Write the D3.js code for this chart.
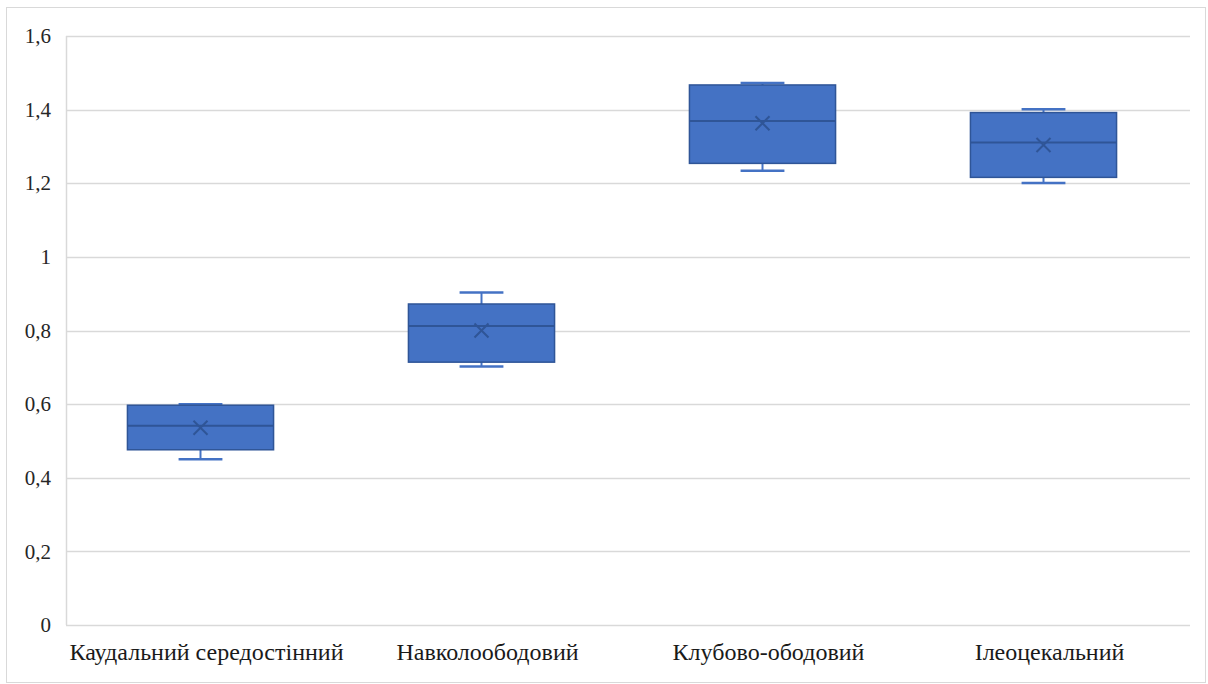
<!DOCTYPE html>
<html>
<head>
<meta charset="utf-8">
<script src="https://cdn.jsdelivr.net/npm/d3@7"></script>
<style>
  html, body { margin: 0; padding: 0; background: #fff; }
  svg { display: block; }
</style>
</head>
<body>
<svg id="chart" width="1208" height="684"></svg>
<script>
// Categories (anatomical regions) and their five-number summaries plus means
const categories = ["Каудальний середостінний", "Навколоободовий", "Клубово-ободовий", "Ілеоцекальний"];
const minValues    = [0.450, 0.702, 1.234, 1.201];
const q1Values     = [0.476, 0.714, 1.254, 1.216];
const medianValues = [0.541, 0.812, 1.369, 1.311];
const q3Values     = [0.597, 0.872, 1.467, 1.392];
const maxValues    = [0.600, 0.903, 1.472, 1.401];
const meanValues   = [0.536, 0.800, 1.363, 1.304];
const yTicks = [0, 0.2, 0.4, 0.6, 0.8, 1, 1.2, 1.4, 1.6];

const svg = d3.select("#chart");
const W = 1208, H = 684;
const margin = { left: 66, right: 18, top: 36, bottom: 59 };
const plotRight = W - margin.right;
const plotBottom = H - margin.bottom;
const serif = '"Liberation Serif", "Times New Roman", serif';

const fmt = v => String(v).replace(".", ",");

// outer chart frame
svg.append("rect")
  .attr("x", 6.5).attr("y", 7.5)
  .attr("width", 1199).attr("height", 675)
  .attr("fill", "#fff").attr("stroke", "#d9d9d9").attr("stroke-width", 1);

const x = d3.scaleBand().domain(categories).range([margin.left, plotRight]);
const y = d3.scaleLinear().domain([0, 1.6]).range([plotBottom, margin.top]);

// horizontal gridlines
svg.append("g").selectAll("line")
  .data(yTicks).join("line")
  .attr("x1", margin.left).attr("x2", plotRight)
  .attr("y1", d => Math.round(y(d)) + 0.5).attr("y2", d => Math.round(y(d)) + 0.5)
  .attr("stroke", "#d9d9d9").attr("stroke-width", 1.5);

// left frame line of the plot area
svg.append("line")
  .attr("x1", margin.left + 0.5).attr("x2", margin.left + 0.5)
  .attr("y1", y(1.6)).attr("y2", y(0))
  .attr("stroke", "#d9d9d9").attr("stroke-width", 1.5);

// y axis labels
const yAxis = d3.axisLeft(y).tickValues(yTicks).tickFormat(fmt).tickSize(0).tickPadding(15);
const gy = svg.append("g").attr("transform", `translate(${margin.left},0)`).call(yAxis);
gy.select(".domain").remove();
gy.selectAll("text")
  .style("font-family", serif).style("font-size", "21px").attr("fill", "#262626");

// x axis labels
const xAxis = d3.axisBottom(x).tickSize(0).tickPadding(18);
const gx = svg.append("g").attr("transform", `translate(0,${plotBottom})`).call(xAxis);
gx.select(".domain").remove();
gx.selectAll("text")
  .style("font-family", serif).style("font-size", "24px").attr("fill", "#1a1a1a");

// box-and-whisker marks
const fill = "#4472c4", dark = "#2f5597";
const boxW = x.bandwidth() * 0.52;
const capW = boxW * 0.3;
const shift = -6;

const rows = categories.map((c, i) => ({
  c, min: minValues[i], q1: q1Values[i], med: medianValues[i],
  q3: q3Values[i], max: maxValues[i], mean: meanValues[i]
}));

const g = svg.append("g").selectAll("g").data(rows).join("g")
  .attr("transform", d => `translate(${x(d.c) + x.bandwidth() / 2 + shift},0)`);

// whiskers
g.append("line").attr("x1", 0).attr("x2", 0)
  .attr("y1", d => y(d.max)).attr("y2", d => y(d.q3))
  .attr("stroke", fill).attr("stroke-width", 2);
g.append("line").attr("x1", 0).attr("x2", 0)
  .attr("y1", d => y(d.q1)).attr("y2", d => y(d.min))
  .attr("stroke", fill).attr("stroke-width", 2);
g.append("line").attr("x1", -capW / 2).attr("x2", capW / 2)
  .attr("y1", d => y(d.max)).attr("y2", d => y(d.max))
  .attr("stroke", fill).attr("stroke-width", 2.5);
g.append("line").attr("x1", -capW / 2).attr("x2", capW / 2)
  .attr("y1", d => y(d.min)).attr("y2", d => y(d.min))
  .attr("stroke", fill).attr("stroke-width", 2.5);

// box
g.append("rect")
  .attr("x", -boxW / 2).attr("width", boxW)
  .attr("y", d => y(d.q3)).attr("height", d => y(d.q1) - y(d.q3))
  .attr("fill", fill).attr("stroke", dark).attr("stroke-width", 1.5);

// median
g.append("line").attr("x1", -boxW / 2).attr("x2", boxW / 2)
  .attr("y1", d => y(d.med)).attr("y2", d => y(d.med))
  .attr("stroke", dark).attr("stroke-width", 2);

// mean marker (×)
const m = 7;
g.append("path")
  .attr("d", d => `M${-m},${y(d.mean) - m}L${m},${y(d.mean) + m}M${-m},${y(d.mean) + m}L${m},${y(d.mean) - m}`)
  .attr("stroke", dark).attr("stroke-width", 2).attr("fill", "none");
</script>
</body>
</html>
